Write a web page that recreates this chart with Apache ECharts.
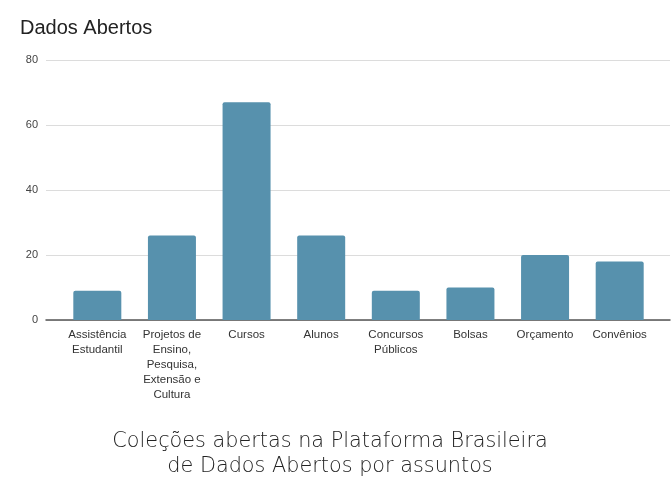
<!DOCTYPE html>
<html><head><meta charset="utf-8">
<script src="https://cdn.jsdelivr.net/npm/echarts@6/dist/echarts.min.js"></script>
<style>html,body{margin:0;padding:0;background:#fff}#c{width:671px;height:477px}</style>
</head><body><div id="c"></div>
<script>
const categories = ['Assistência\nEstudantil','Projetos de\nEnsino,\nPesquisa,\nExtensão e\nCultura','Cursos','Alunos','Concursos\nPúblicos','Bolsas','Orçamento','Convênios'];
const values = [9, 26, 67, 26, 9, 10, 20, 18];
const yTicks = [0, 20, 40, 60, 80];
const titleText = 'Dados Abertos';
const captionText = 'Coleções abertas na Plataforma Brasileira\nde Dados Abertos por assuntos';

const chart = echarts.init(document.getElementById('c'), null, {renderer:'canvas'});
chart.setOption({
  animation:false,
  title:[{text:titleText,left:15,top:13,textStyle:{fontFamily:'Liberation Sans, Arial',fontSize:20,fontWeight:'normal',color:'#222'}},
         {text:captionText,left:325,top:424,textAlign:'center',textStyle:{fontFamily:'DejaVu Sans',fontSize:20.8,fontWeight:200,color:'#222',lineHeight:25,align:'center'}}],
  grid:[{left:46,right:1,top:60,bottom:157},{left:60,right:14,top:60,bottom:157}],
  xAxis:[
    {gridIndex:0,type:'value',min:0,max:1,axisLine:{show:true,lineStyle:{color:'#555',width:1.5}},axisLabel:{show:false},axisTick:{show:false},splitLine:{show:false}},
    {gridIndex:1,type:'category',data:categories,axisLine:{show:false},axisTick:{show:false},
     axisLabel:{interval:0,margin:7,fontFamily:'Liberation Sans, Arial',fontSize:11.5,color:'#333',lineHeight:15}}
  ],
  yAxis:[
    {gridIndex:0,type:'value',min:yTicks[0],max:yTicks[yTicks.length-1],interval:20,axisLine:{show:false},axisTick:{show:false},
     axisLabel:{margin:8,fontFamily:'Liberation Sans, Arial',fontSize:11,color:'#444'},splitLine:{lineStyle:{color:'#dcdcdc',width:1}}},
    {gridIndex:1,type:'value',min:yTicks[0],max:yTicks[yTicks.length-1],interval:20,show:false,splitLine:{show:false}}
  ],
  series:[{type:'bar',xAxisIndex:1,yAxisIndex:1,data:values,barWidth:48,
    itemStyle:{color:'#5791ad',borderRadius:[2,2,0,0]},z:1}]
});
</script></body></html>
